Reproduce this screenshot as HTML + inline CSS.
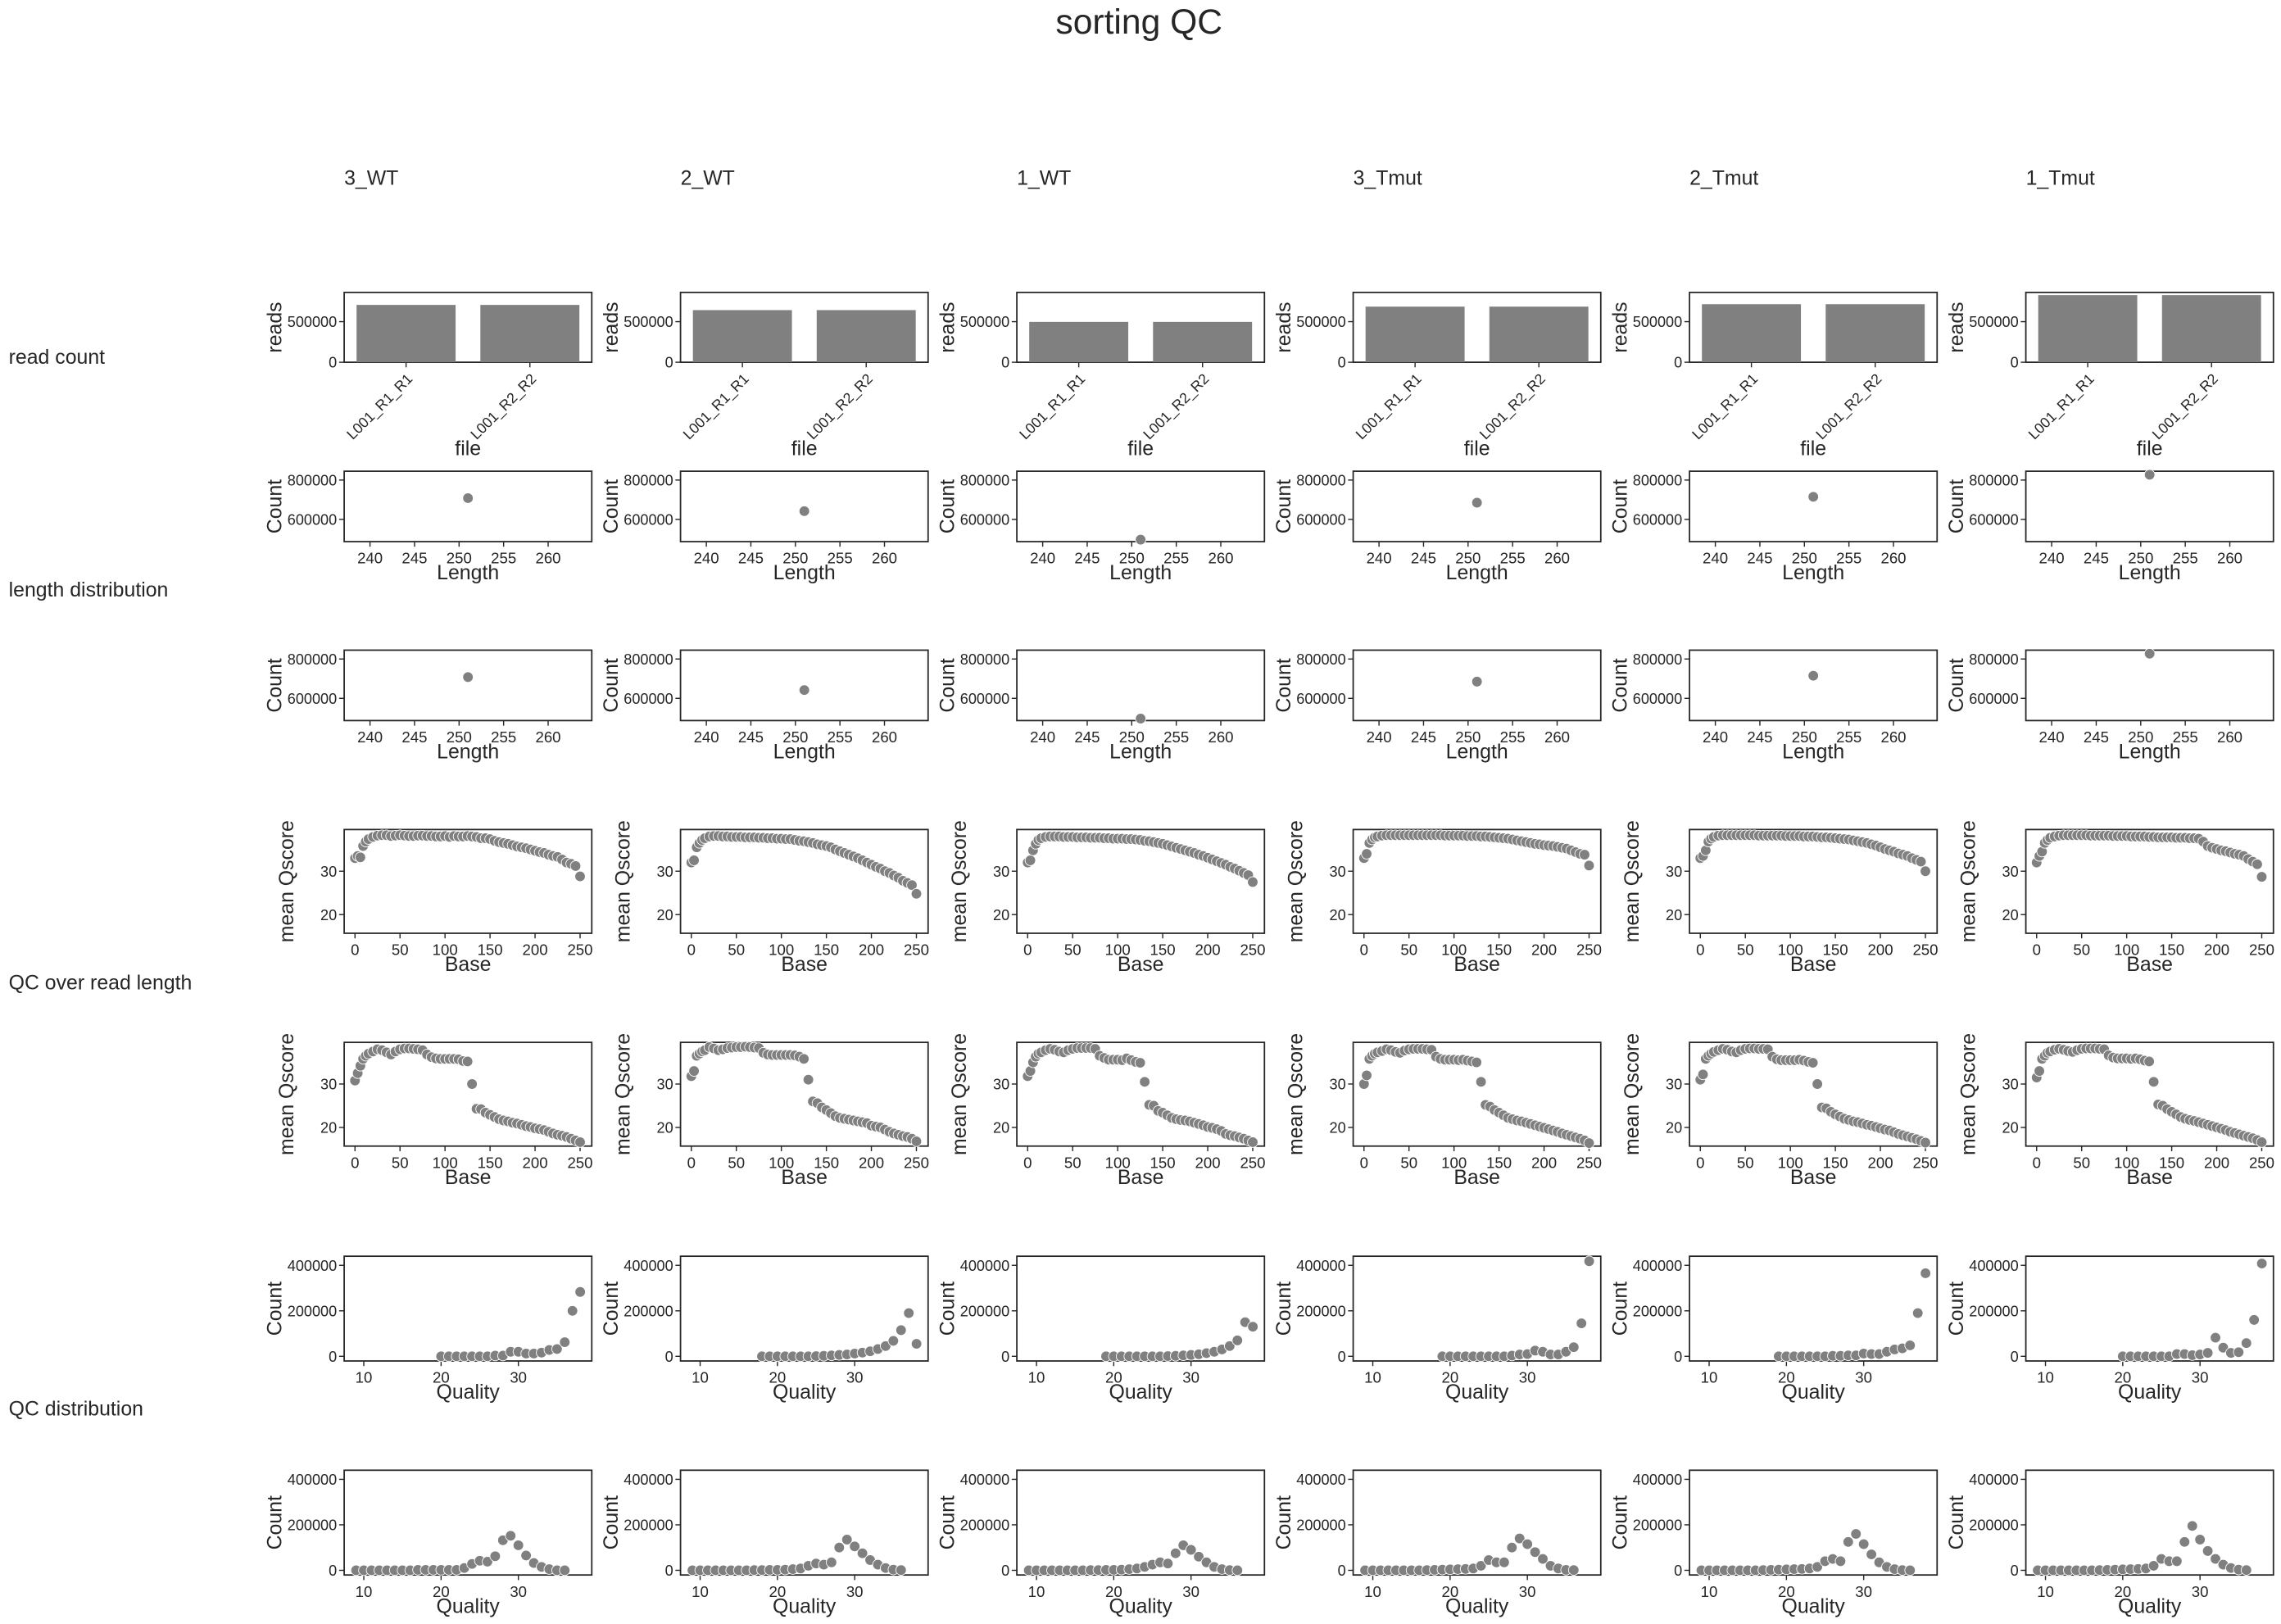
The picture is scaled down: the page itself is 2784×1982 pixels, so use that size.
<!DOCTYPE html>
<html><head><meta charset="utf-8"><style>
html,body{margin:0;padding:0;background:#fff}
svg{display:block}
text{font-family:"Liberation Sans",Arial,sans-serif;fill:#262626}
</style></head><body>
<svg id="fig" xmlns="http://www.w3.org/2000/svg" width="2784" height="1982" viewBox="0 0 1568 1116.3" preserveAspectRatio="none">
<rect x="0" y="0" width="1568" height="1116.3" fill="#fff"/>
<text x="783" y="23" font-size="24" text-anchor="middle">sorting QC</text>
<text x="6" y="250" font-size="14">read count</text>
<text x="6" y="410" font-size="14">length distribution</text>
<text x="6" y="680" font-size="14">QC over read length</text>
<text x="6" y="973" font-size="14">QC distribution</text>
</svg>
<script>
const samples = ["3_WT","2_WT","1_WT","3_Tmut","2_Tmut","1_Tmut"];
const files = ["L001_R1_R1","L001_R2_R2"];
const readCounts = [706000, 642000, 497000, 685000, 715000, 827000];
const lengthValue = [251];
const lengthCounts = [708000, 642000, 497000, 685000, 715000, 827000];
const bases = [0,3,6,9,12,15,20,25,30,35,40,45,50,55,60,65,70,75,80,85,90,95,100,105,110,115,120,125,130,135,140,145,150,155,160,165,170,175,180,185,190,195,200,205,210,215,220,225,230,235,240,245,250];
const qscoreR1_3WT = [33,33.5,33.2,35.8,36.8,37.4,37.9,38.2,38.3,38.3,38.1,38.2,38.3,38.2,38.1,38.1,38.2,38.2,38.1,38.1,38.0,38.0,38.1,37.9,38.1,38.0,38.0,38.1,38.0,37.9,37.6,37.6,37.4,37.0,36.7,36.5,36.3,36.0,35.7,35.5,35.3,35.0,34.7,34.4,34.2,33.8,33.5,33.3,32.7,32.0,31.7,31.2,28.8];
const qscoreR1_2WT = [32,32.5,35.5,36.5,37.2,37.6,38.0,38.1,38.1,38.0,38.0,37.9,37.9,37.9,37.8,37.8,37.8,37.7,37.7,37.6,37.6,37.5,37.5,37.4,37.4,37.2,37.0,36.9,36.7,36.5,36.2,36.0,35.8,35.5,35.0,34.6,34.2,33.8,33.4,33.0,32.5,32.0,31.5,31.0,30.6,30.0,29.6,29.0,28.5,27.8,27.3,26.8,24.8];
const qscoreR1_1WT = [32,32.5,34.8,36.3,37.2,37.6,37.9,38.0,38.0,38.0,37.9,37.9,37.9,37.8,37.8,37.8,37.7,37.7,37.7,37.6,37.6,37.5,37.5,37.5,37.4,37.4,37.3,37.2,37.0,36.9,36.7,36.5,36.3,36.0,35.7,35.4,35.1,34.8,34.5,34.2,33.8,33.5,33.1,32.7,32.3,31.9,31.5,31.0,30.6,30.1,29.6,29.1,27.5];
const qscoreR1_3Tmut = [33,34,36.5,37.3,37.8,38.0,38.2,38.3,38.3,38.3,38.3,38.3,38.3,38.3,38.3,38.3,38.3,38.3,38.3,38.3,38.2,38.2,38.2,38.2,38.2,38.1,38.1,38.1,38.0,38.0,37.9,37.8,37.7,37.6,37.5,37.3,37.1,36.9,36.7,36.5,36.3,36.2,36.0,35.9,35.8,35.6,35.4,35.2,34.8,34.4,34.0,33.8,31.3];
const qscoreR1_2Tmut = [33,33.5,34.8,36.8,37.5,37.9,38.2,38.3,38.3,38.3,38.3,38.3,38.3,38.3,38.3,38.2,38.2,38.2,38.2,38.2,38.2,38.1,38.1,38.1,38.1,38.0,38.0,38.0,37.9,37.8,37.8,37.7,37.6,37.5,37.4,37.3,37.1,36.9,36.7,36.5,36.2,35.9,35.5,35.1,34.8,34.5,34.1,33.8,33.5,33.0,32.6,32.2,30.0];
const qscoreR1_1Tmut = [32,33.5,34.5,36.5,37.2,37.7,38.0,38.2,38.3,38.3,38.3,38.3,38.3,38.3,38.2,38.2,38.2,38.2,38.2,38.1,38.1,38.1,38.1,38.0,38.0,38.0,38.0,37.9,37.9,37.8,37.8,37.8,37.8,37.7,37.7,37.7,37.6,37.6,37.5,36.8,35.8,35.4,35.1,34.8,34.6,34.3,34.0,33.8,33.5,32.8,32.2,31.6,28.7];
const qscoreR2_3WT = [30.8,32.5,34.2,35.8,36.5,37.0,37.5,38.0,37.8,37.3,36.8,37.5,38.0,38.2,38.2,38.1,38.0,37.8,36.8,36.2,35.9,35.8,35.8,35.8,35.8,35.7,35.3,35.2,30.0,24.3,24.2,23.4,22.9,22.4,21.9,21.6,21.4,21.1,20.9,20.6,20.3,20.1,19.8,19.6,19.4,19.0,18.6,18.3,18.1,17.8,17.4,17.0,16.6];
const qscoreR2_2WT = [31.8,33.0,36.5,37.0,37.5,37.8,38.5,38.2,37.8,38.0,38.3,38.4,38.5,38.5,38.6,38.5,38.4,38.3,37.2,36.8,36.7,36.7,36.7,36.7,36.7,36.6,36.3,35.8,31.0,26.0,25.6,24.6,24.0,23.3,22.6,22.2,22.0,21.8,21.6,21.4,21.2,21.0,20.4,20.2,20.0,19.5,19.0,18.6,18.3,18.0,17.8,17.4,16.8];
const qscoreR2_1WT = [31.8,33.0,35.0,36.3,37.0,37.3,37.8,38.1,37.9,37.5,37.3,37.8,38.1,38.3,38.3,38.3,38.3,38.1,36.5,36.0,35.6,35.6,35.6,35.5,35.9,35.5,35.1,34.9,30.5,25.2,25.0,23.8,23.4,22.8,22.2,21.9,21.7,21.6,21.4,21.1,20.8,20.5,20.1,19.9,19.6,19.2,18.5,18.2,18.0,17.7,17.4,17.0,16.6];
const qscoreR2_3Tmut = [30.0,32.0,35.8,36.5,37.0,37.3,37.6,38.0,37.8,37.4,37.2,37.7,38.0,38.1,38.1,38.1,38.0,37.9,36.3,35.8,35.6,35.6,35.6,35.5,35.6,35.4,35.2,35.0,30.5,25.2,24.8,24.0,23.4,22.8,22.2,21.9,21.6,21.4,21.1,20.8,20.5,20.2,19.9,19.6,19.3,19.0,18.6,18.3,18.0,17.7,17.4,17.0,16.4];
const qscoreR2_2Tmut = [31.0,32.2,35.8,36.5,37.0,37.4,37.8,38.1,37.9,37.5,37.3,37.8,38.1,38.2,38.2,38.1,38.1,38.0,36.3,35.7,35.5,35.5,35.5,35.5,35.6,35.4,35.1,34.9,30.0,24.6,24.4,23.6,23.0,22.5,22.0,21.7,21.4,21.2,20.9,20.6,20.4,20.1,19.8,19.5,19.3,18.9,18.5,18.2,17.9,17.6,17.3,16.9,16.5];
const qscoreR2_1Tmut = [31.5,33.0,35.8,36.5,37.2,37.5,37.9,38.1,37.9,37.6,37.4,37.8,38.1,38.2,38.2,38.2,38.1,38.0,36.6,36.1,35.9,35.9,35.9,35.8,35.9,35.7,35.4,35.2,30.5,25.3,25.0,24.2,23.6,23.0,22.4,22.0,21.7,21.5,21.2,20.9,20.6,20.3,20.0,19.7,19.4,19.0,18.7,18.4,18.1,17.8,17.5,17.1,16.6];
const qualR1_3WT_x = [20,21,22,23,24,25,26,27,28,29,30,31,32,33,34,35,36,37,38];
const qualR1_3WT = [0,0,0,0,0,0,0,3000,3000,20000,20000,12000,12000,16000,28000,32000,62000,200000,283000];
const qualR1_2WT_x = [18,19,20,21,22,23,24,25,26,27,28,29,30,31,32,33,34,35,36,37,38];
const qualR1_2WT = [0,0,0,0,0,0,0,1000,2000,4000,6000,8000,12000,16000,22000,32000,45000,68000,115000,190000,55000];
const qualR1_1WT_x = [19,20,21,22,23,24,25,26,27,28,29,30,31,32,33,34,35,36,37,38];
const qualR1_1WT = [0,0,0,0,0,0,0,0,1000,2000,4000,6000,9000,14000,20000,30000,45000,70000,150000,130000];
const qualR1_3Tmut_x = [19,20,21,22,23,24,25,26,27,28,29,30,31,32,33,34,35,36,37,38];
const qualR1_3Tmut = [0,0,0,0,0,0,0,0,0,3000,8000,10000,25000,20000,8000,8000,20000,40000,145000,418000];
const qualR1_2Tmut_x = [19,20,21,22,23,24,25,26,27,28,29,30,31,32,33,34,35,36,37,38];
const qualR1_2Tmut = [0,0,0,0,0,0,0,2000,2000,4000,4000,12000,10000,10000,20000,30000,35000,48000,190000,365000];
const qualR1_1Tmut_x = [20,21,22,23,24,25,26,27,28,29,30,31,32,33,34,35,36,37,38];
const qualR1_1Tmut = [0,0,0,0,0,0,0,10000,10000,5000,8000,15000,82000,38000,15000,18000,58000,160000,408000];
const qualR2_x = [9,10,11,12,13,14,15,16,17,18,19,20,21,22,23,24,25,26,27,28,29,30,31,32,33,34,35,36];
const qualR2_3WT = [0,0,0,0,0,0,0,0,2000,2000,2000,2000,2000,2000,10000,28000,42000,38000,62000,132000,152000,110000,65000,32000,15000,5000,0,0];
const qualR2_2WT = [0,0,0,0,0,0,0,0,1000,1000,2000,2000,3000,5000,8000,20000,30000,25000,35000,100000,135000,105000,75000,45000,25000,10000,3000,1000];
const qualR2_1WT = [0,0,0,0,0,0,0,0,1000,1000,2000,2000,3000,5000,8000,15000,25000,35000,30000,75000,110000,90000,60000,35000,15000,5000,1000,0];
const qualR2_3Tmut = [0,0,0,0,0,0,0,0,1000,2000,3000,4000,5000,6000,8000,20000,45000,35000,35000,100000,140000,115000,80000,50000,20000,8000,2000,1000];
const qualR2_2Tmut = [0,0,0,0,0,0,0,0,1000,2000,3000,4000,5000,6000,8000,15000,40000,50000,40000,125000,160000,115000,70000,35000,15000,5000,1000,0];
const qualR2_1Tmut = [0,0,0,0,0,0,0,0,1000,2000,3000,4000,5000,6000,8000,20000,50000,40000,40000,125000,195000,135000,85000,50000,25000,10000,3000,1000];

const qR1 = [qscoreR1_3WT,qscoreR1_2WT,qscoreR1_1WT,qscoreR1_3Tmut,qscoreR1_2Tmut,qscoreR1_1Tmut];
const qR2 = [qscoreR2_3WT,qscoreR2_2WT,qscoreR2_1WT,qscoreR2_3Tmut,qscoreR2_2Tmut,qscoreR2_1Tmut];
const dR1 = [[qualR1_3WT_x,qualR1_3WT],[qualR1_2WT_x,qualR1_2WT],[qualR1_1WT_x,qualR1_1WT],[qualR1_3Tmut_x,qualR1_3Tmut],[qualR1_2Tmut_x,qualR1_2Tmut],[qualR1_1Tmut_x,qualR1_1Tmut]];
const dR2 = [qualR2_3WT,qualR2_2WT,qualR2_1WT,qualR2_3Tmut,qualR2_2Tmut,qualR2_1Tmut];

const NS = "http://www.w3.org/2000/svg";
const svg = document.getElementById('fig');
function mk(tag, attrs, parent){const e=document.createElementNS(NS,tag);for(const k in attrs)e.setAttribute(k,attrs[k]);(parent||svg).appendChild(e);return e;}
const colX = i => 236.6 + i*231.2;
const W = 170.2;
function scale(d0,d1,r0,r1){return v=>r0+(v-d0)/(d1-d0)*(r1-r0);}

function axes(g, x0, top, h, xlim, ylim, xticks, yticks, xlabel, ylabel, ylabOff, rotX){
  const sx = scale(xlim[0],xlim[1],x0,x0+W), sy = scale(ylim[0],ylim[1],top+h,top);
  const frame = mk('rect',{x:x0,y:top,width:W,height:h,fill:'none',stroke:'#262626','stroke-width':1},g);
  
  
  yticks.forEach(t=>{const y=sy(t);
    mk('line',{x1:x0-3.5,x2:x0,y1:y,y2:y,stroke:'#262626','stroke-width':0.8},g);
    const tl=mk('text',{x:x0-5,y:y+3.7,'font-size':10.2,'text-anchor':'end'},g);tl.textContent=t;
    
    });
  xticks.forEach(t=>{const x=sx(typeof t==='string'?xticks.indexOf(t):t);
    mk('line',{x1:x,x2:x,y1:top+h,y2:top+h+3.5,stroke:'#262626','stroke-width':0.8},g);
    let tl;
    if(rotX){tl=mk('text',{x:x+5,y:top+h+12,'font-size':10,'text-anchor':'end',transform:`rotate(-45 ${x+5} ${top+h+12})`},g);}
    else{tl=mk('text',{x:x,y:top+h+15,'font-size':10.5,'text-anchor':'middle'},g);}
    tl.textContent=t;
    
    });
  const xl=mk('text',{x:x0+W/2,y:rotX?top+h+64:top+h+26,'font-size':14,'text-anchor':'middle'},g);xl.textContent=xlabel;
  
  
  const yx=x0-ylabOff, yy=top+h/2;
  const yl=mk('text',{x:yx,y:yy,'font-size':14,'text-anchor':'middle',transform:`rotate(-90 ${yx} ${yy})`},g);yl.textContent=ylabel;
  
  
  return {sx,sy};
}
function dot(g,x,y){const c=mk('circle',{cx:x,cy:y,r:3.6,fill:'#808080',stroke:'#fff','stroke-width':0.5},g);
  
  }

samples.forEach((s,i)=>{
  const x0=colX(i);
  const t=mk('text',{x:x0,y:127,'font-size':14});t.textContent=s;
  
  
  let g=mk('g',{});
  
  
  let a=axes(g,x0,201,48,[-0.5,1.5],[0,860000],files,[0,500000],'file','reads',43,true);
  files.forEach((f,k)=>{const b=mk('rect',{x:a.sx(k-0.4),y:a.sy(readCounts[i]),width:a.sx(k+0.4)-a.sx(k-0.4),height:a.sy(0)-a.sy(readCounts[i]),fill:'#808080'},g);
    
    });
  [323.9,446.9].forEach(top=>{
    const g2=mk('g',{});
    
    
    const a2=axes(g2,x0,top,48.4,[237.1,264.9],[487000,845000],[240,245,250,255,260],[600000,800000],'Length','Count',43,false);
    dot(g2,a2.sx(lengthValue[0]),a2.sy(lengthCounts[i]));
  });
  [[570.2,qR1[i]],[716.5,qR2[i]]].forEach(([top,vals])=>{
    const g3=mk('g',{});
    
    
    const a3=axes(g3,x0,top,71.3,[-12,263],[15.7,39.6],[0,50,100,150,200,250],[20,30],'Base','mean Qscore',35,false);
    bases.forEach((b,k)=>dot(g3,a3.sx(b),a3.sy(vals[k])));
  });
  [[863.5,dR1[i][0],dR1[i][1]],[1010.6,qualR2_x,dR2[i]]].forEach(([top,xs,vals])=>{
    const g4=mk('g',{});
    
    
    const a4=axes(g4,x0,top,72,[7.46,39.5],[-20500,440000],[10,20,30],[0,200000,400000],'Quality','Count',43,false);
    xs.forEach((q,k)=>dot(g4,a4.sx(q),a4.sy(vals[k])));
  });
});
</script>
</body></html>
